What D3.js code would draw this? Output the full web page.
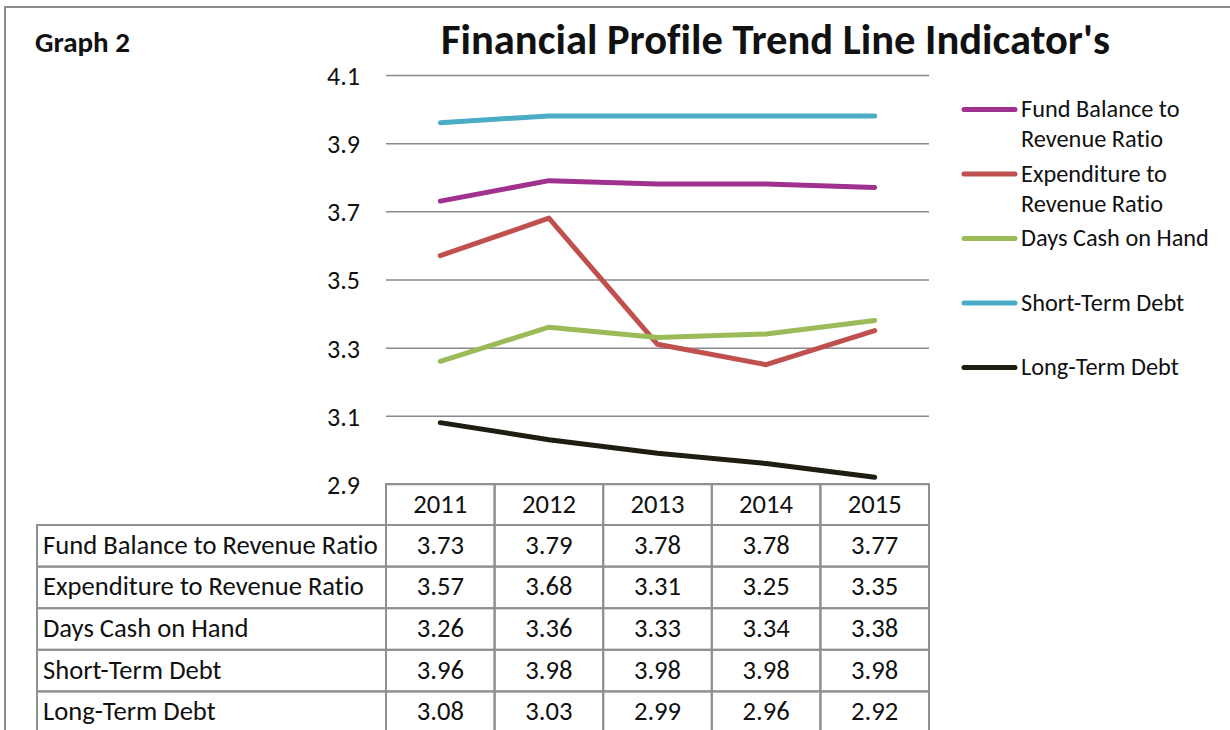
<!DOCTYPE html>
<html>
<head>
<meta charset="utf-8">
<script src="https://cdn.jsdelivr.net/npm/d3@7"></script>
<style>
  html, body { margin: 0; padding: 0; background: #fff; }
  svg { display: block; }
  svg text { font-variant-ligatures: none; font-feature-settings: "liga" 0, "clig" 0; }
</style>
</head>
<body>
<script>
// ---------------- DATA ----------------
const years = ["2011", "2012", "2013", "2014", "2015"];
const seriesNames = [
  "Fund Balance to Revenue Ratio",
  "Expenditure to Revenue Ratio",
  "Days Cash on Hand",
  "Short-Term Debt",
  "Long-Term Debt"
];
const fundBalance = [3.73, 3.79, 3.78, 3.78, 3.77];
const expenditure = [3.57, 3.68, 3.31, 3.25, 3.35];
const daysCash    = [3.26, 3.36, 3.33, 3.34, 3.38];
const shortTerm   = [3.96, 3.98, 3.98, 3.98, 3.98];
const longTerm    = [3.08, 3.03, 2.99, 2.96, 2.92];
const yTicks = [2.9, 3.1, 3.3, 3.5, 3.7, 3.9, 4.1];
const legendLines = [
  ["Fund Balance to", "Revenue Ratio"],
  ["Expenditure to", "Revenue Ratio"],
  ["Days Cash on Hand"],
  ["Short-Term Debt"],
  ["Long-Term Debt"]
];
const titleText = "Financial Profile Trend Line Indicator's";
const graphLabel = "Graph 2";

// ---------------- STYLE / LAYOUT ----------------
const colors = ["#A0318E", "#C0504D", "#9BBB59", "#4BACC6", "#1F1C11"];
const FONT = "Carlito, 'Open Sans', sans-serif";
const W = 1230, H = 730;
const plot = { left: 386, right: 929, top: 75, bottom: 484 };
const tableTop = 484, headerH = 41, rowH = 41.6, labelLeft = 37;
const gridColor = "#8a8a8a", tableColor = "#909090";

const allSeries = [fundBalance, expenditure, daysCash, shortTerm, longTerm];

const svg = d3.select("body").append("svg")
  .attr("width", W).attr("height", H)
  .style("font-family", FONT);

// helper: size font so that sample text has target width
function fitSize(text, weight, target) {
  const t = svg.append("text").attr("font-size", 100).attr("font-weight", weight)
    .style("font-family", FONT).text(text);
  const w = t.node().getComputedTextLength();
  t.remove();
  return 100 * target / w;
}
const titleSize = fitSize(titleText, "bold", 669);
const graphSize = fitSize(graphLabel, "bold", 95);
const tableSize = fitSize(seriesNames[0], "normal", 335);
const tickSize = fitSize("4.1", "normal", 33);
const legendSize = fitSize("Days Cash on Hand", "normal", 188);

// outer border
svg.append("path")
  .attr("d", `M5,${H} V7 H${W}`)
  .attr("fill", "none").attr("stroke", "#8c8c8c").attr("stroke-width", 2);

// scales
const x = d3.scaleBand().domain(years).range([plot.left, plot.right]);
const y = d3.scaleLinear().domain([2.9, 4.1]).range([plot.bottom, plot.top]);
const cx = d => x(d) + x.bandwidth() / 2;

// gridlines
const grid = svg.append("g").attr("transform", `translate(${plot.left},0)`)
  .call(d3.axisLeft(y).tickValues(yTicks).tickSize(-(plot.right - plot.left)).tickFormat(""));
grid.select(".domain").remove();
grid.selectAll("line").attr("stroke", gridColor).attr("stroke-width", 1.5);

// y labels
const yAx = svg.append("g").attr("transform", `translate(${plot.left},0)`)
  .call(d3.axisLeft(y).tickValues(yTicks).tickSize(0).tickPadding(26).tickFormat(d3.format(".1f")));
yAx.select(".domain").remove();
yAx.selectAll("text")
  .attr("font-size", tickSize).attr("fill", "#111").attr("dy", "0.36em")
  .style("font-family", FONT);

// title
svg.append("text").attr("x", 441).attr("y", 54)
  .attr("font-size", titleSize).attr("font-weight", "bold").attr("fill", "#111")
  .text(titleText);
svg.append("text").attr("x", 35).attr("y", 52)
  .attr("font-size", graphSize).attr("font-weight", "bold").attr("fill", "#111")
  .text(graphLabel);

// lines
const line = d3.line().x((v, i) => cx(years[i])).y(v => y(v));
svg.append("g").selectAll("path").data(allSeries).join("path")
  .attr("d", d => line(d))
  .attr("fill", "none")
  .attr("stroke", (d, i) => colors[i])
  .attr("stroke-width", 5)
  .attr("stroke-linecap", "round")
  .attr("stroke-linejoin", "round");

// legend
const leg = svg.append("g");
legendLines.forEach((lines, i) => {
  const y0 = 109.5 + i * 64.5;
  leg.append("line").attr("x1", 964).attr("x2", 1015).attr("y1", y0).attr("y2", y0)
    .attr("stroke", colors[i]).attr("stroke-width", 5).attr("stroke-linecap", "round");
  lines.forEach((s, j) => {
    leg.append("text").attr("x", 1021).attr("y", y0 + 7.5 + j * 30)
      .attr("font-size", legendSize).attr("fill", "#111").text(s);
  });
});

// data table
const tbl = svg.append("g");
// header row
years.forEach(yr => {
  tbl.append("rect").attr("x", x(yr)).attr("y", tableTop)
    .attr("width", x.bandwidth()).attr("height", headerH)
    .attr("fill", "none").attr("stroke", tableColor).attr("stroke-width", 2);
  tbl.append("text").attr("x", cx(yr)).attr("y", tableTop + headerH / 2 + 8)
    .attr("text-anchor", "middle").attr("font-size", tableSize).attr("fill", "#111").text(yr);
});
const fmt = d3.format(".2f");
seriesNames.forEach((name, r) => {
  const ry = tableTop + headerH + r * rowH;
  tbl.append("rect").attr("x", labelLeft).attr("y", ry)
    .attr("width", plot.left - labelLeft).attr("height", rowH)
    .attr("fill", "none").attr("stroke", tableColor).attr("stroke-width", 2);
  tbl.append("text").attr("x", labelLeft + 6).attr("y", ry + rowH / 2 + 8)
    .attr("font-size", tableSize).attr("fill", "#111").text(name);
  years.forEach((yr, c) => {
    tbl.append("rect").attr("x", x(yr)).attr("y", ry)
      .attr("width", x.bandwidth()).attr("height", rowH)
      .attr("fill", "none").attr("stroke", tableColor).attr("stroke-width", 2);
    tbl.append("text").attr("x", cx(yr)).attr("y", ry + rowH / 2 + 8)
      .attr("text-anchor", "middle").attr("font-size", tableSize).attr("fill", "#111")
      .text(fmt(allSeries[r][c]));
  });
});
</script>
</body>
</html>
